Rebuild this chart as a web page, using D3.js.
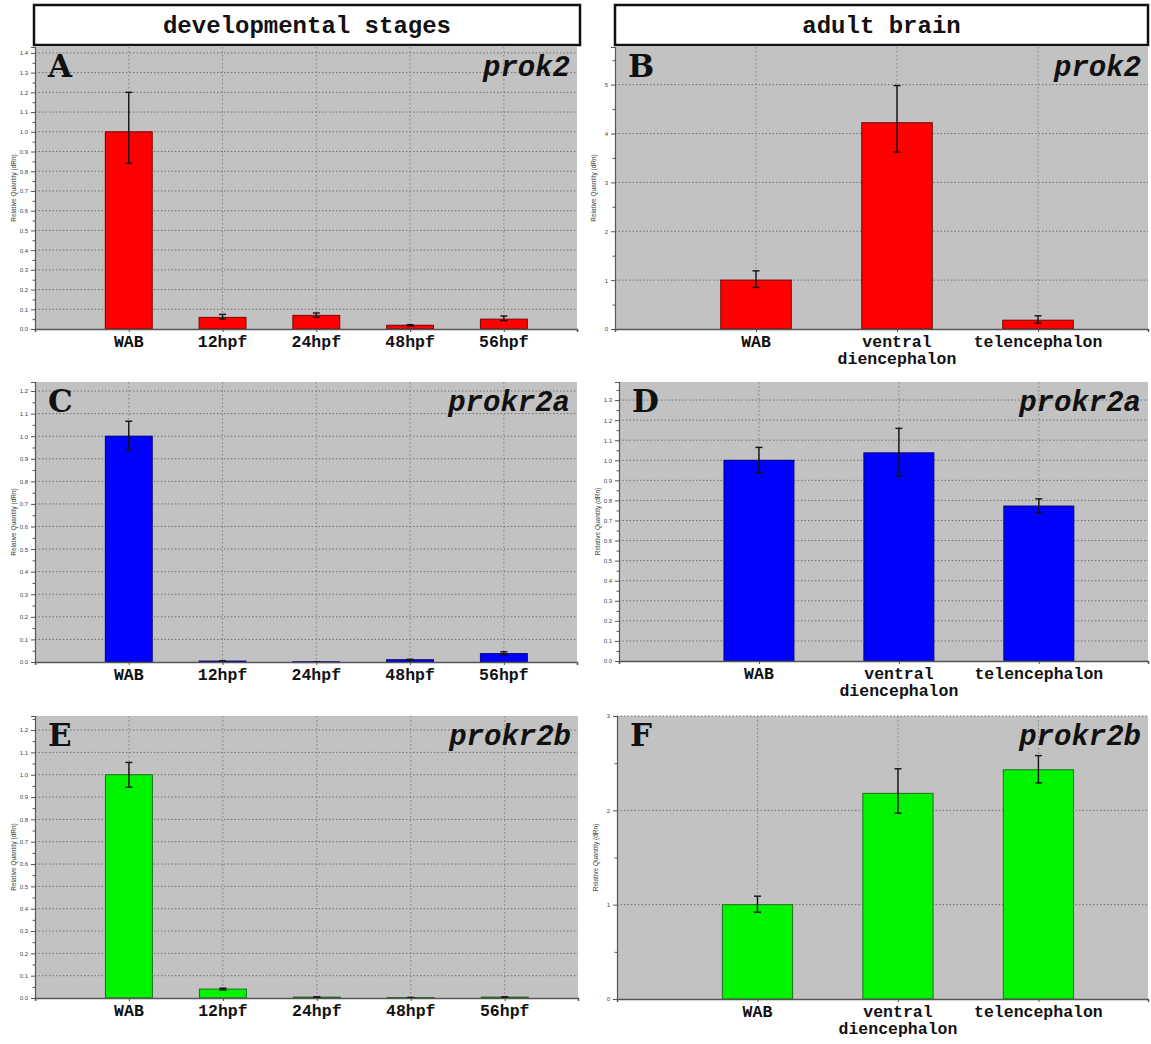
<!DOCTYPE html>
<html>
<head>
<meta charset="utf-8">
<script src="https://cdn.jsdelivr.net/npm/d3@7"></script>
<style>
  html, body { margin: 0; padding: 0; background: #ffffff; }
  svg { display: block; }
</style>
</head>
<body>
<svg id="fig" width="1151" height="1044"></svg>
<script>
// ---- categories ----
const devStages = ["WAB", "12hpf", "24hpf", "48hpf", "56hpf"];
const brainRegions = ["WAB", "ventral\ndiencephalon", "telencephalon"];

// ---- prok2 (relative quantity, mean / error low / error high) ----
const prok2Dev      = [1.00, 0.059, 0.069, 0.019, 0.050];
const prok2DevLow   = [0.84, 0.050, 0.059, 0.016, 0.042];
const prok2DevHigh  = [1.20, 0.074, 0.081, 0.022, 0.066];
const prok2Brain     = [1.00, 4.22, 0.18];
const prok2BrainLow  = [0.85, 3.62, 0.12];
const prok2BrainHigh = [1.19, 4.98, 0.27];

// ---- prokr2a ----
const prokr2aDev      = [1.00, 0.004, 0.001, 0.010, 0.037];
const prokr2aDevLow   = [0.938, 0.003, 0.0008, 0.008, 0.030];
const prokr2aDevHigh  = [1.066, 0.005, 0.0012, 0.012, 0.045];
const prokr2aBrain     = [1.00, 1.037, 0.772];
const prokr2aBrainLow  = [0.935, 0.923, 0.739];
const prokr2aBrainHigh = [1.064, 1.159, 0.808];

// ---- prokr2b ----
const prokr2bDev      = [1.00, 0.040, 0.004, 0.002, 0.004];
const prokr2bDevLow   = [0.944, 0.036, 0.003, 0.0015, 0.003];
const prokr2bDevHigh  = [1.055, 0.044, 0.005, 0.0025, 0.005];
const prokr2bBrain     = [1.00, 2.18, 2.43];
const prokr2bBrainLow  = [0.92, 1.97, 2.29];
const prokr2bBrainHigh = [1.09, 2.44, 2.58];

// ---- tick labels ----
const ticksA = ["0.0","0.1","0.2","0.3","0.4","0.5","0.6","0.7","0.8","0.9","1.0","1.1","1.2","1.3","1.4"];
const ticksB = ["0","1","2","3","4","5"];
const ticksC = ["0.0","0.1","0.2","0.3","0.4","0.5","0.6","0.7","0.8","0.9","1.0","1.1","1.2"];
const ticksD = ["0.0","0.1","0.2","0.3","0.4","0.5","0.6","0.7","0.8","0.9","1.0","1.1","1.2","1.3"];
const ticksE = ["0.0","0.1","0.2","0.3","0.4","0.5","0.6","0.7","0.8","0.9","1.0","1.1","1.2"];
const ticksF = ["0","1","2","3"];

const headers = ["developmental stages", "adult brain"];
const yTitle = "Relative Quantity (dRn)";

const svg = d3.select("#fig");
const mono = "'Liberation Mono', 'Courier New', monospace";

// column header boxes
const headerBoxes = [
  {text: headers[0], x0: 34, x1: 580},
  {text: headers[1], x0: 615, x1: 1148}
];
headerBoxes.forEach(h => {
  svg.append("rect").attr("x", h.x0).attr("y", 5).attr("width", h.x1 - h.x0).attr("height", 40)
    .attr("fill", "#fff").attr("stroke", "#111").attr("stroke-width", 2.5);
  svg.append("text").attr("x", (h.x0 + h.x1) / 2).attr("y", 33)
    .attr("text-anchor", "middle").attr("font-family", mono).attr("font-weight", "bold")
    .attr("font-size", 24).attr("fill", "#111").text(h.text);
});

const panels = [
  {letter: "A", gene: "prok2",   cats: devStages,    vals: prok2Dev,     lo: prok2DevLow,     hi: prok2DevHigh,
   ticks: ticksA, minorStep: 0.05, yMax: 1.43, box: [35, 577, 47, 329], fill: "#ff0000", stroke: "#7a0000"},
  {letter: "B", gene: "prok2",   cats: brainRegions, vals: prok2Brain,   lo: prok2BrainLow,   hi: prok2BrainHigh,
   ticks: ticksB, minorStep: 0.5,  yMax: 5.77, box: [615, 1148, 47, 329], fill: "#ff0000", stroke: "#7a0000"},
  {letter: "C", gene: "prokr2a", cats: devStages,    vals: prokr2aDev,   lo: prokr2aDevLow,   hi: prokr2aDevHigh,
   ticks: ticksC, minorStep: 0.05, yMax: 1.24, box: [35, 577, 382, 662], fill: "#0000ff", stroke: "#00007a"},
  {letter: "D", gene: "prokr2a", cats: brainRegions, vals: prokr2aBrain, lo: prokr2aBrainLow, hi: prokr2aBrainHigh,
   ticks: ticksD, minorStep: 0.05, yMax: 1.39, box: [619, 1148, 382, 661], fill: "#0000ff", stroke: "#00007a"},
  {letter: "E", gene: "prokr2b", cats: devStages,    vals: prokr2bDev,   lo: prokr2bDevLow,   hi: prokr2bDevHigh,
   ticks: ticksE, minorStep: 0.05, yMax: 1.263, box: [35, 578, 716, 998], fill: "#00f400", stroke: "#1f6f1f"},
  {letter: "F", gene: "prokr2b", cats: brainRegions, vals: prokr2bBrain, lo: prokr2bBrainLow, hi: prokr2bBrainHigh,
   ticks: ticksF, minorStep: 0.5,  yMax: 3.0, box: [617, 1148, 716, 999], fill: "#00f400", stroke: "#1f6f1f"}
];

panels.forEach(p => {
  const [L, R, T, B] = p.box;
  const n = p.cats.length;
  const x = d3.scaleLinear().domain([0, n + 0.78]).range([L, R]);
  const y = d3.scaleLinear().domain([0, p.yMax]).range([B, T]);
  const step = x(1) - x(0);
  const bw = step * 0.5;
  const g = svg.append("g");

  // plot background
  g.append("rect").attr("x", L).attr("y", T).attr("width", R - L).attr("height", B - T).attr("fill", "#c2c2c2");

  const majors = p.ticks.map(t => +t);
  const minors = d3.range(0, p.yMax + 1e-9, p.minorStep).filter(v => !majors.some(m => Math.abs(m - v) < 1e-6));

  // horizontal dotted grid at major ticks
  g.selectAll(".hgrid").data(majors.filter(v => v > 0)).join("line")
    .attr("x1", L).attr("x2", R).attr("y1", d => y(d)).attr("y2", d => y(d))
    .attr("stroke", "#707070").attr("stroke-width", 1).attr("stroke-dasharray", "1.5,2");

  // vertical dotted grid at category centers
  g.selectAll(".vgrid").data(p.cats).join("line")
    .attr("x1", (d, i) => x(i + 1)).attr("x2", (d, i) => x(i + 1)).attr("y1", T).attr("y2", B)
    .attr("stroke", "#808080").attr("stroke-width", 1).attr("stroke-dasharray", "1.5,2.5");

  // bars
  g.selectAll(".bar").data(p.vals).join("rect")
    .attr("x", (d, i) => x(i + 1) - bw / 2).attr("width", bw)
    .attr("y", d => y(d)).attr("height", d => Math.max(0.8, B - y(d)))
    .attr("fill", p.fill).attr("stroke", p.stroke).attr("stroke-width", 1);

  // error bars
  const cap = 3.5;
  p.vals.forEach((v, i) => {
    const cx = x(i + 1);
    const y1 = y(p.hi[i]), y2 = y(p.lo[i]);
    g.append("line").attr("x1", cx).attr("x2", cx).attr("y1", y1).attr("y2", y2)
      .attr("stroke", "#111").attr("stroke-width", 1.4);
    [y1, y2].forEach(yy => g.append("line").attr("x1", cx - cap).attr("x2", cx + cap)
      .attr("y1", yy).attr("y2", yy).attr("stroke", "#111").attr("stroke-width", 1.4));
  });

  // y axis
  const yAxis = d3.axisLeft(y).tickValues(majors).tickSize(4)
    .tickFormat((d, i) => p.ticks[i]);
  const ya = g.append("g").attr("transform", `translate(${L},0)`).call(yAxis);
  ya.select(".domain").attr("stroke", "#555").attr("stroke-width", 1.2);
  ya.selectAll(".tick line").attr("stroke", "#555");
  ya.selectAll("text").attr("font-family", "'Liberation Sans', Arial, sans-serif")
    .attr("font-size", 6).attr("fill", "#444");
  const yMinor = d3.axisLeft(y).tickValues(minors).tickSize(2.5).tickFormat("");
  const ym = g.append("g").attr("transform", `translate(${L},0)`).call(yMinor);
  ym.select(".domain").remove();
  ym.selectAll(".tick line").attr("stroke", "#555");

  // x axis baseline and category ticks
  const xAxis = d3.axisBottom(x).tickValues(d3.range(1, n + 1)).tickSize(3).tickFormat("");
  const xa = g.append("g").attr("transform", `translate(0,${B})`).call(xAxis);
  xa.select(".domain").attr("stroke", "#555").attr("stroke-width", 1.5);
  xa.selectAll(".tick line").attr("stroke", "#555");

  // category labels
  p.cats.forEach((c, i) => {
    const lines = c.split("\n");
    const t = g.append("text").attr("x", x(i + 1)).attr("y", B + 18)
      .attr("text-anchor", "middle").attr("font-family", mono).attr("font-weight", "bold")
      .attr("font-size", 16.5).attr("fill", "#111");
    lines.forEach((ln, k) => t.append("tspan").attr("x", x(i + 1)).attr("dy", k === 0 ? 0 : 17).text(ln));
  });

  // y-axis title
  g.append("text").attr("transform", `translate(${L - 19},${(T + B) / 2}) rotate(-90)`)
    .attr("text-anchor", "middle").attr("font-family", "'Liberation Sans', Arial, sans-serif")
    .attr("font-size", 6.5).attr("fill", "#444").text(yTitle);

  // panel letter
  g.append("text").attr("x", L + 13).attr("y", T + 30)
    .attr("font-family", "'DejaVu Serif', serif").attr("font-weight", "bold")
    .attr("font-size", 31).attr("fill", "#111").text(p.letter);

  // gene name
  g.append("text").attr("x", R - 7).attr("y", T + 29).attr("text-anchor", "end")
    .attr("font-family", mono).attr("font-weight", "bold").attr("font-style", "italic")
    .attr("font-size", 29).attr("fill", "#111").text(p.gene);
});
</script>
</body>
</html>
